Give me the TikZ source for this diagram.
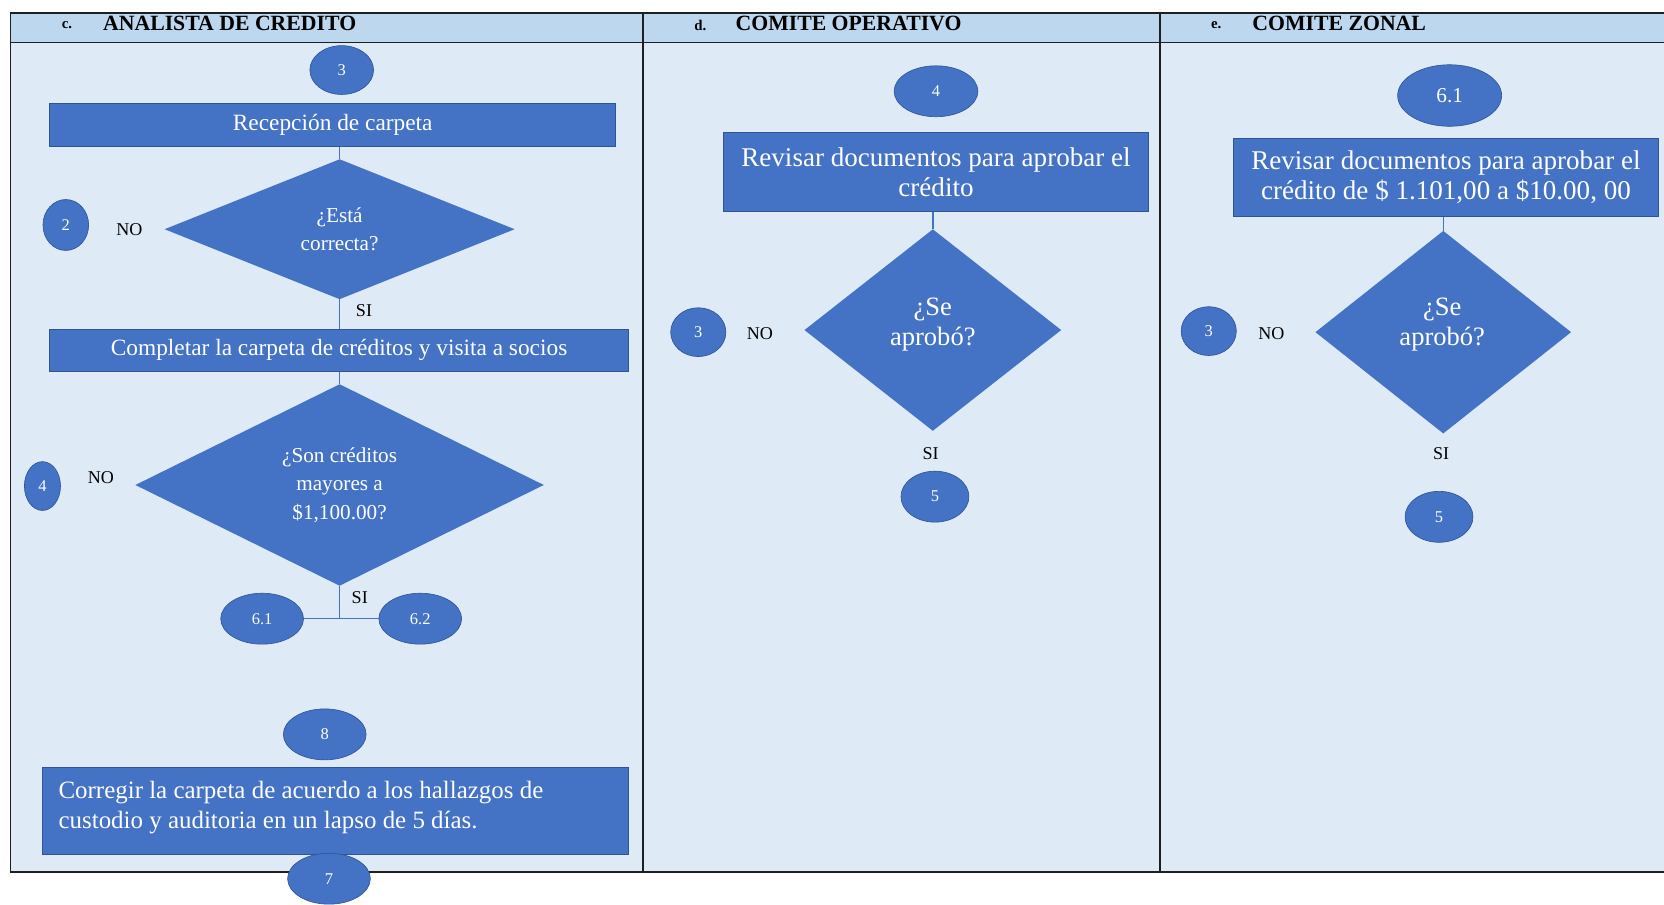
\documentclass[tikz,border=0pt]{standalone}
\usepackage{fontspec}
\setmainfont{Liberation Serif}
\usetikzlibrary{shapes.geometric}

\definecolor{hdr}{HTML}{BDD7EE}
\definecolor{pane}{HTML}{DEEAF6}
\definecolor{boxblue}{HTML}{4472C4}
\definecolor{boxedge}{HTML}{2F5597}
\definecolor{rule}{HTML}{1F1F1F}

\newcommand\fs[2]{\fontsize{#1}{#2}\selectfont}

\tikzset{
  proc/.style={rectangle, draw=boxedge, line width=0.8pt, fill=boxblue,
    text=white, inner sep=0pt, align=center},
  dec/.style={diamond, fill=boxblue, text=white, inner sep=0pt, align=center},
  dectext/.style={text=white, inner sep=0pt, align=center},
  conn/.style={ellipse, draw=boxedge, line width=0.6pt, fill=boxblue,
    text=white, inner sep=0pt, font=\fs{15.5}{18}},
  link/.style={draw=boxblue, line width=1.4pt},
  tag/.style={font=\fs{17}{20}, inner sep=0pt},
  lane/.style={font=\bfseries\fs{20.5}{24}, anchor=west, inner sep=0pt},
  lanekey/.style={font=\bfseries\fs{14}{16}, anchor=west, inner sep=0pt},
  grid/.style={draw=rule, line width=1.6pt},
}

\begin{document}
\begin{tikzpicture}[x=1pt, y=-1pt]
  \useasboundingbox (0,0) rectangle (1568,852);

  % swimlane table
  \fill[pane] (10,40) rectangle (1568,822);
  \fill[hdr] (10,12) rectangle (1568,40);
  \draw[grid] (1568,12) -- (10,12) -- (10,822) -- (1568,822);
  \draw[grid] (10,40) -- (1568,40);
  \draw[grid] (606,12) -- (606,822);
  \draw[grid] (1093,12) -- (1093,822);

  \node[lanekey] (kc) at (58,24) {c.};
  \node[lane] (lc) at (97,22) {ANALISTA DE CREDITO};
  \node[lanekey] (kd) at (654,24) {d.};
  \node[lane] (ld) at (693,22) {COMITE OPERATIVO};
  \node[lanekey] (ke) at (1141,24) {e.};
  \node[lane] (le) at (1180,22) {COMITE ZONAL};

  % lane c: analista de credito
  \node[conn, minimum width=60pt, minimum height=46pt] (c3a) at (322,66) {3};
  \node[proc, minimum width=533pt, minimum height=41pt, font=\fs{22}{26}]
    (rec) at (313.5,117.5) {Recepción de carpeta};
  \node[dec, minimum width=330pt, minimum height=132pt, shape aspect=2.5,
    font=\fs{20}{26}] (d1) at (320,216) {¿Está\\correcta?};
  \node[conn, minimum width=43pt, minimum height=48pt] (c2) at (62,212) {2};
  \node[tag] (no1) at (122,216) {NO};
  \node[tag] (si1) at (343,293) {SI};
  \node[proc, minimum width=545pt, minimum height=40pt, font=\fs{22}{26}]
    (comp) at (319.5,330) {Completar la carpeta de créditos y visita a socios};
  \node[dec, minimum width=385pt, minimum height=190pt, shape aspect=2,
    font=\fs{20}{27}] (d2) at (320,457)
    {¿Son créditos\\mayores a\\\$1,100.00?};
  \node[conn, minimum width=34pt, minimum height=46pt] (c4a) at (40,458) {4};
  \node[tag] (no2) at (95,450) {NO};
  \node[tag] (si2) at (339,563) {SI};
  \node[conn, minimum width=78pt, minimum height=48pt] (c61a) at (247,583) {6.1};
  \node[conn, minimum width=78pt, minimum height=48pt] (c62) at (396,583) {6.2};
  \node[conn, minimum width=78pt, minimum height=48pt] (c8) at (306,692) {8};
  \node[proc, minimum width=552pt, minimum height=82pt] (corr) at (316,764) {};
  \node[dectext, anchor=west, align=left, font=\fs{23.5}{28}] (corrt)
    at (55,761)
    {Corregir la carpeta de acuerdo a los hallazgos de\\custodio y auditoria en un lapso de 5 días.};
  \node[conn, minimum width=78pt, minimum height=48pt] (c7) at (310,828) {7};

  \draw[link] (d1.north |- rec.south) -- (d1.north);
  \draw[link] (d1.south) -- (d1.south |- comp.north);
  \draw[link] (d2.north |- comp.south) -- (d2.north);
  \draw[link] (d2.south) -- (d2.south |- c61a.east);
  \draw[link] (c61a.east) -- (c62.west);

  % lane d: comite operativo
  \node[conn, minimum width=79pt, minimum height=48pt] (c4b) at (882,86) {4};
  \node[proc, minimum width=400pt, minimum height=74pt, font=\fs{25.5}{28}]
    (rev1) at (882,162) {Revisar documentos para aprobar el\\crédito};
  \node[dec, minimum width=242pt, minimum height=190pt] (d3) at (879,311) {};
  \node[dectext, font=\fs{25}{28}] (d3t) at (879,306) {¿Se\\aprobó?};
  \node[conn, minimum width=52pt, minimum height=46pt] (c3b) at (658,313) {3};
  \node[tag] (no3) at (716,314) {NO};
  \node[tag] (si3) at (877,427) {SI};
  \node[conn, minimum width=64pt, minimum height=48pt] (c5a) at (881,468) {5};

  \draw[link] (d3.north |- rev1.south) -- (d3.north);

  % lane e: comite zonal
  \node[conn, minimum width=98pt, minimum height=58pt, font=\fs{20}{24}]
    (c61b) at (1366,90) {6.1};
  \node[proc, minimum width=401pt, minimum height=74pt, font=\fs{25.5}{28}]
    (rev2) at (1362.5,167)
    {Revisar documentos para aprobar el\\crédito de \$ 1.101,00 a \$10.00, 00};
  \node[dec, minimum width=241pt, minimum height=191pt] (d4) at (1360,313) {};
  \node[dectext, font=\fs{25}{28}] (d4t) at (1359,306) {¿Se\\aprobó?};
  \node[conn, minimum width=52pt, minimum height=46pt] (c3c) at (1139,312) {3};
  \node[tag] (no4) at (1198,314) {NO};
  \node[tag] (si4) at (1358,427) {SI};
  \node[conn, minimum width=64pt, minimum height=48pt] (c5b) at (1356,487) {5};

  \draw[link] (d4.north |- rev2.south) -- (d4.north);
\end{tikzpicture}
\end{document}
